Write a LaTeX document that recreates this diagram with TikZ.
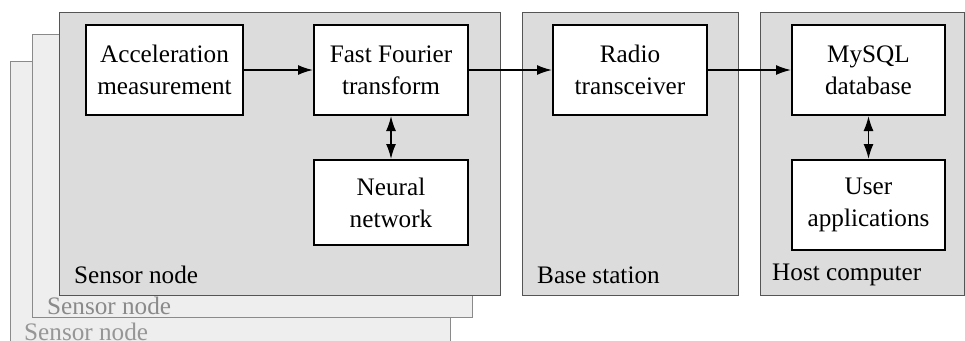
\documentclass[tikz,border=0pt]{standalone}
\usepackage{fontspec}
\setmainfont{Liberation Serif}
\usepackage{tikz}
\usetikzlibrary{arrows.meta}

\definecolor{panelfill}{HTML}{DCDCDC}
\definecolor{backfill}{HTML}{EEEEEE}
\definecolor{backline}{HTML}{8A8A8A}
\definecolor{frontline}{HTML}{555555}

\tikzset{
  blk/.style={draw,line width=2pt,fill=white,align=center,inner sep=0pt,
    minimum width=154pt,minimum height=90pt},
  lbl/.style={anchor=west,inner sep=0pt},
  flow/.style={line width=1.6pt,-{Latex[length=15pt,width=10pt]}},
  both/.style={line width=1.6pt,{Latex[length=15pt,width=10pt]}-{Latex[length=15pt,width=10pt]}}
}

\begin{document}
\begin{tikzpicture}[x=1pt,y=-1pt,font=\fontsize{25.2}{32}\selectfont]
\useasboundingbox (0,0) rectangle (965,340);
% stacked sensor nodes
\draw[backline,line width=1pt,fill=backfill] (10,61) rectangle (450,360);
\node[lbl,backline!90] at (24,332) {Sensor node};
\draw[backline,line width=1pt,fill=backfill] (32,34) rectangle (472,317);
\node[lbl,backline] at (47,306) {Sensor node};
\draw[frontline,line width=1pt,fill=panelfill] (59,12) rectangle (500,295);
\node[lbl] at (74,275) {Sensor node};
% base station and host computer
\draw[frontline,line width=1pt,fill=panelfill] (522,12) rectangle (738,295);
\node[lbl] at (537,275) {Base station};
\draw[frontline,line width=1pt,fill=panelfill] (760,12) rectangle (964,295);
\node[lbl] at (772,275) {Host computer};
% blocks
\node[blk,minimum width=157pt] (acc) at (164.5,70) {Acceleration\\measurement};
\node[blk] (fft) at (391,70) {Fast Fourier\\transform};
\node[blk,minimum height=85pt] (nn) at (391,202.5) {Neural\\network};
\node[blk] (radio) at (630,70) {Radio\\transceiver};
\node[blk,minimum width=153pt] (db) at (868.5,70) {MySQL\\database};
\node[blk,minimum width=153pt] (app) at (868.5,205) {User\\applications};
% connections
\draw[flow] (acc) -- (fft);
\draw[flow] (fft) -- (radio);
\draw[flow] (radio) -- (db);
\draw[both] (fft) -- (nn);
\draw[both] (db) -- (app);
\end{tikzpicture}
\end{document}
